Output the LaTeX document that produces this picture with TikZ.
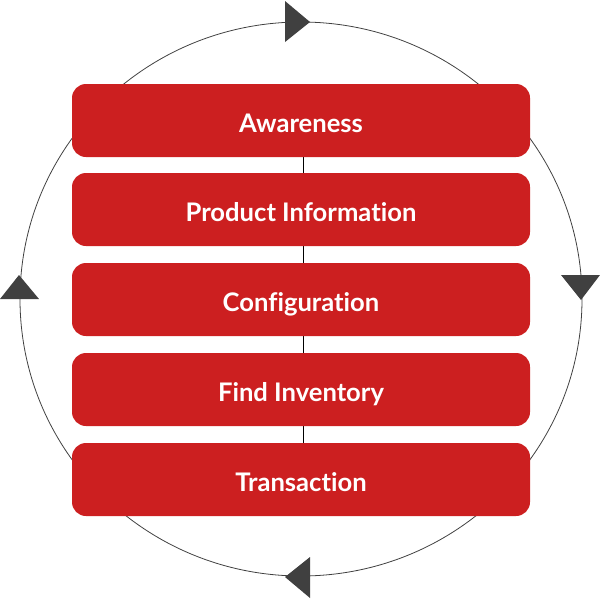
\documentclass[tikz,border=0pt]{standalone}
\usepackage{fontspec}
\setmainfont[Ligatures=NoCommon]{Lato}
\definecolor{boxred}{HTML}{CC1F20}
\definecolor{arrgray}{HTML}{404040}
\begin{document}
\begin{tikzpicture}[x=1pt,y=-1pt,
  stagebox/.style={fill=boxred, draw=none, rounded corners=14pt, minimum width=458pt, minimum height=73pt, inner sep=0pt, text height=24.4pt, text depth=0pt, text=white, font=\fontsize{25.6}{28}\selectfont\bfseries},
  arrowtri/.style={fill=arrgray, draw=none}]
\useasboundingbox (0,0) rectangle (600,600);
\draw[arrgray, line width=0.8pt] (301,299) ellipse [x radius=281pt, y radius=277pt];
\coordinate (lt) at (303,120);
\coordinate (lb) at (303,480);
\draw[black, line width=0.8pt] (lt) -- (lb);
\node[stagebox] (a) at (301,120.5) {Awareness};
\node[stagebox] (b) at (301,209.5) {Product Information};
\node[stagebox] (c) at (301,299.5) {Configuration};
\node[stagebox] (d) at (301,389.5) {Find Inventory};
\node[stagebox] (e) at (301,479.5) {Transaction};
\fill[arrowtri] (285,1) -- (285,42) -- (310,22) -- cycle;
\fill[arrowtri] (561,275) -- (600,275) -- (581,300) -- cycle;
\fill[arrowtri] (310,557) -- (310,598) -- (285,577) -- cycle;
\fill[arrowtri] (0,299) -- (39,299) -- (19,275) -- cycle;
\end{tikzpicture}
\end{document}
